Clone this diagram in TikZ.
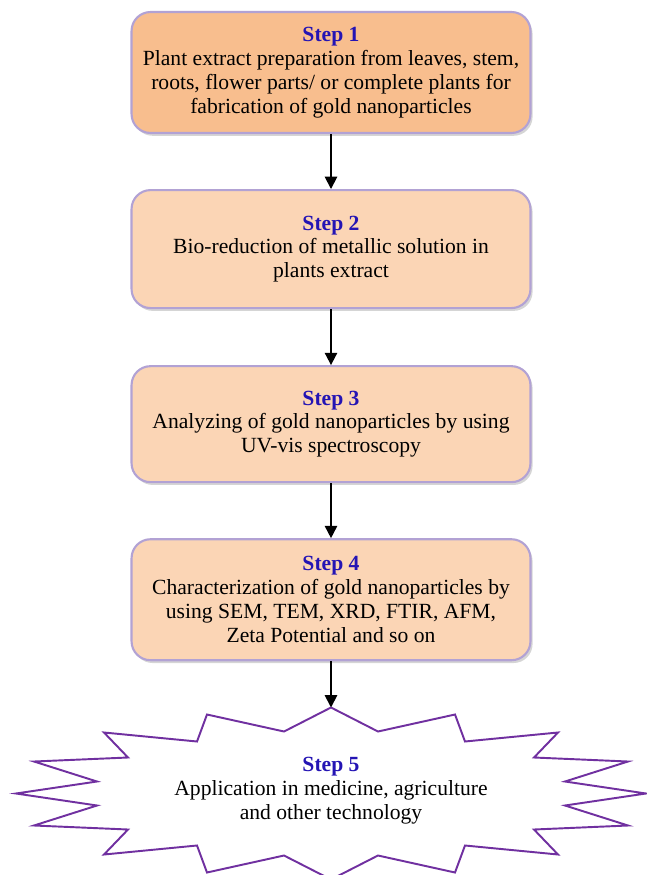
\documentclass[tikz,border=0pt]{standalone}
\usepackage{fontspec}
\setmainfont{Liberation Serif}
\usepackage{xcolor}
\usetikzlibrary{positioning}
\usetikzlibrary{shadows}
\usetikzlibrary{arrows.meta}
\definecolor{stepblue}{RGB}{36,20,180}
\definecolor{boxedge}{RGB}{178,162,212}
\definecolor{peachdark}{RGB}{248,190,142}
\definecolor{peach}{RGB}{251,213,181}
\definecolor{starline}{RGB}{112,48,160}
\newcommand{\steptitle}[1]{{\fontsize{12.3}{14}\selectfont\bfseries\color{stepblue}Step #1}}

\begin{document}
\begin{tikzpicture}[x=0.02cm, y=-0.02cm,
	stepbox/.style={rectangle, rounded corners=0.38cm, draw=boxedge, line width=1.2pt, minimum width=7.98cm, align=center, font=\fontsize{12.3}{13.6}\selectfont, drop shadow={shadow xshift=1.2pt, shadow yshift=-1.6pt, fill=gray!65}},
	flow/.style={-{Triangle[length=7pt, width=7pt]}, line width=1pt}]
	\useasboundingbox (0,0) rectangle (646,875);
	% boxes
	\node[stepbox, fill=peachdark, minimum height=2.42cm] (b1) at (331,72.5) {\steptitle{1}\\ Plant extract preparation from leaves, stem,\\ roots, flower parts/ or complete plants for\\ fabrication of gold nanoparticles};
	\node[stepbox, fill=peach, minimum height=2.36cm] (b2) [below=1.1cm of b1] {\steptitle{2}\\ Bio-reduction of metallic solution in\\ plants extract};
	\node[stepbox, fill=peach, minimum height=2.32cm] (b3) [below=1.12cm of b2] {\steptitle{3}\\ Analyzing of gold nanoparticles by using\\ UV-vis spectroscopy};
	\node[stepbox, fill=peach, minimum height=2.42cm] (b4) [below=1.1cm of b3] {\steptitle{4}\\ Characterization of gold nanoparticles by\\ using SEM, TEM, XRD, FTIR, AFM,\\ Zeta Potential and so on};
	% star
	\draw[starline, line width=1.1pt, line join=miter, shift={(331,793.5)}] (0,-86) -- (47,-62) -- (124,-79) -- (134,-52) -- (227,-61) -- (203,-36) -- (297,-32) -- (234,-12) -- (315,0)
		-- (234,12) -- (297,32) -- (203,36) -- (227,61) -- (134,52) -- (124,79) -- (47,62) -- (0,86)
		-- (-47,62) -- (-124,79) -- (-134,52) -- (-227,61) -- (-203,36) -- (-297,32) -- (-234,12) -- (-315,0)
		-- (-234,-12) -- (-297,-32) -- (-203,-36) -- (-227,-61) -- (-134,-52) -- (-124,-79) -- (-47,-62) -- cycle;
	\coordinate (s5top) at (331,707.5);
	\node[align=center, font=\fontsize{12.3}{13.6}\selectfont] (s5) at (331,791) {\steptitle{5}\\ Application in medicine, agriculture\\ and other technology};
	% arrows
	\draw[flow] (b1.south) -- (b2.north);
	\draw[flow] (b2.south) -- (b3.north);
	\draw[flow] (b3.south) -- (b4.north);
	\draw[flow] (b4.south) -- (s5top);
\end{tikzpicture}
\end{document}
